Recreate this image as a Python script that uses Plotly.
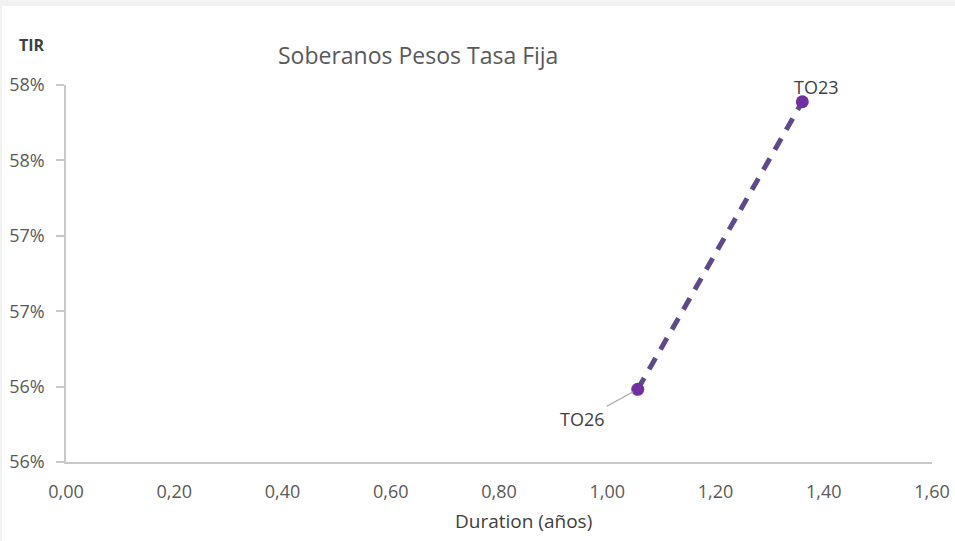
import plotly.graph_objects as go

# Data
bonds = ["TO26", "TO23"]
duration = [1.0563, 1.3604]
tir = [0.55982, 0.57889]

y_tickvals = [0.555, 0.560, 0.565, 0.570, 0.575, 0.580]
y_ticktext = ["56%", "56%", "57%", "57%", "58%", "58%"]
x_tickvals = [0.0, 0.2, 0.4, 0.6, 0.8, 1.0, 1.2, 1.4, 1.6]
x_ticktext = ["0,00", "0,20", "0,40", "0,60", "0,80", "1,00", "1,20", "1,40", "1,60"]

FONT = "Open Sans, Noto Sans, sans-serif"
W, H = 955, 541
L, R, T, B = 66, 23, 85, 79
pw, ph = W - L - R, H - T - B

fig = go.Figure()

# trendline (dashed) between the points
fig.add_trace(go.Scatter(
    x=duration, y=tir, mode="lines",
    line=dict(color="#5E4A8A", width=5, dash="13px,10px"),
    hoverinfo="skip", showlegend=False,
))
# points
fig.add_trace(go.Scatter(
    x=duration, y=tir, mode="markers",
    marker=dict(color="#7030A0", size=13),
    showlegend=False,
))

# labels
fig.add_annotation(x=duration[1], y=tir[1], text=bonds[1], showarrow=False,
                   xanchor="center", yanchor="bottom", xshift=14, yshift=1,
                   font=dict(family=FONT, size=18, color="#404040"))
fig.add_annotation(x=duration[0], y=tir[0], text=bonds[0], showarrow=True,
                   arrowhead=0, arrowwidth=1.2, arrowcolor="#A6A6A6",
                   ax=-55, ay=30, standoff=5,
                   font=dict(family=FONT, size=18, color="#404040"))

# title, y label, x label
fig.add_annotation(xref="paper", yref="paper", x=(418 - L) / pw, y=(H - B - 55) / ph,
                   text="Soberanos Pesos Tasa Fija", showarrow=False,
                   xanchor="center", yanchor="middle",
                   font=dict(family=FONT, size=23, color="#595959"))
fig.add_annotation(xref="paper", yref="paper", x=(32 - L) / pw, y=(H - B - 45) / ph,
                   text="<b>TIR</b>", showarrow=False,
                   xanchor="center", yanchor="middle",
                   font=dict(family=FONT, size=16, color="#404040"))
fig.add_annotation(xref="paper", yref="paper", x=(523 - L) / pw, y=(H - B - 521) / ph,
                   text="Duration (años)", showarrow=False,
                   xanchor="center", yanchor="middle",
                   font=dict(family=FONT, size=19, color="#404040"))

# white chart area over light gray page
fig.add_shape(type="rect", xref="paper", yref="paper", layer="below",
              x0=(2 - L) / pw, x1=(W - L) / pw,
              y0=-(B) / ph, y1=(H - B - 6) / ph,
              fillcolor="white", line=dict(width=0))

fig.update_layout(
    width=W, height=H, autosize=False,
    margin=dict(l=L, r=R, t=T, b=B, autoexpand=False),
    paper_bgcolor="#F2F2F2", plot_bgcolor="rgba(0,0,0,0)",
    font=dict(family=FONT, color="#595959"),
    xaxis=dict(range=[0, 1.6], tickvals=x_tickvals, ticktext=x_ticktext,
               showgrid=False, zeroline=False, showline=True,
               linecolor="#C8C8C8", linewidth=1.5, ticks="",
               ticklabelstandoff=13,
               tickfont=dict(size=18, color="#595959")),
    yaxis=dict(range=[0.555, 0.580], tickvals=y_tickvals, ticktext=y_ticktext,
               showgrid=False, zeroline=False, showline=True,
               linecolor="#C8C8C8", linewidth=1.5, ticks="outside",
               ticklen=8, tickcolor="#C8C8C8", tickwidth=1.5,
               ticklabelstandoff=8,
               tickfont=dict(size=18, color="#595959")),
)

fig.write_html(
    "out.html",
    config={"displayModeBar": False, "responsive": False},
    post_script=(
        "document.documentElement.style.overflow='hidden';"
        "document.body.style.overflow='hidden';"
        "document.body.style.margin='0';document.body.style.padding='0';"
    ),
)
